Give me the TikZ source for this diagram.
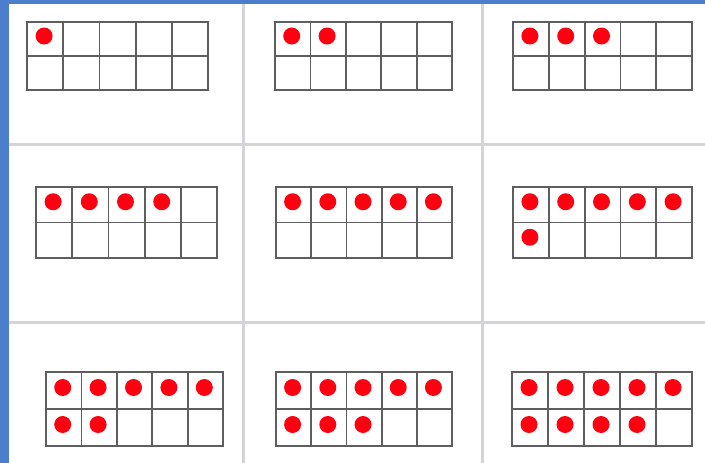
\documentclass[tikz,border=0pt]{standalone}
\definecolor{bluebar}{HTML}{4C7FCB}
\definecolor{sepgray}{HTML}{D4D4D8}
\definecolor{framegray}{HTML}{5E5E5E}
\definecolor{dotred}{HTML}{FF0010}
\tikzset{
  sepline/.style={draw=sepgray, line width=3pt},
  frameline/.style={draw=framegray, line width=1.8pt},
  counter/.style={fill=dotred},
}
\begin{document}
\begin{tikzpicture}[x=1pt,y=-1pt]
\useasboundingbox (0,0) rectangle (705,463);
\fill[white] (0,0) rectangle (705,463);
% separators
\draw[sepline] (243.5,4) -- (243.5,463);
\draw[sepline] (482.5,4) -- (482.5,463);
\draw[sepline] (9,144.5) -- (705,144.5);
\draw[sepline] (9,322.5) -- (705,322.5);
% blue border
\fill[bluebar] (0,0) rectangle (9,463);
\fill[bluebar] (0,0) rectangle (705,4);
% ten frames
\foreach \xa/\ya/\xb/\yb/\n in {27/22/208/90/1, 275/22/452/90/2, 513/22/692/90/3,
  36/187/217/258/4, 276/187/452/258/5, 513/187/692/258/6,
  46/372/223/446/7, 276/372/452/446/8, 512/372/692/446/9}{
  \pgfmathsetmacro\cw{(\xb-\xa)/5}
  \pgfmathsetmacro\ch{(\yb-\ya)/2}
  \pgfmathsetmacro\ym{\ya+\ch}
  \foreach \k in {1,...,\n}{
    \pgfmathtruncatemacro\col{mod(\k-1,5)}
    \pgfmathtruncatemacro\row{int((\k-1)/5)}
    \pgfmathsetmacro\cx{\xa+(\col+0.5)*\cw-1}
    \pgfmathsetmacro\cy{\ya+(\row+0.5)*\ch-3}
    \fill[counter] (\cx,\cy) circle[radius=8.5];
  }
  \foreach \i in {1,2,3,4}{
    \pgfmathsetmacro\xx{\xa+\i*\cw}
    \draw[frameline] (\xx,\ya) -- (\xx,\yb);
  }
  \draw[frameline] (\xa,\ym) -- (\xb,\ym);
  \draw[frameline] (\xa,\ya) rectangle (\xb,\yb);
}
\end{tikzpicture}
\end{document}
